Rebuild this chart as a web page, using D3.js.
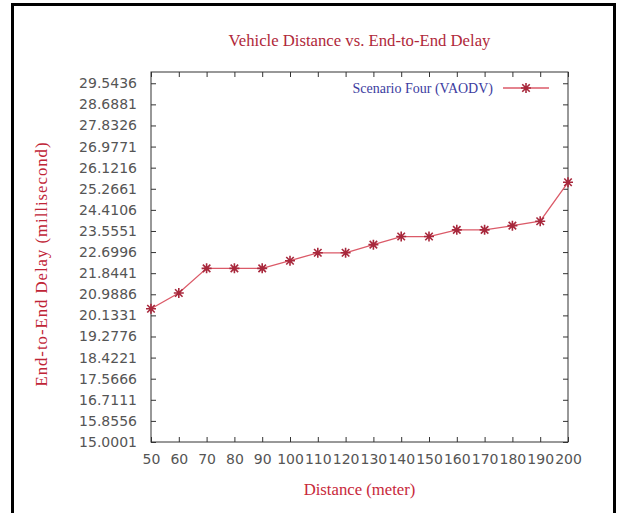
<!DOCTYPE html>
<html>
<head>
<meta charset="utf-8">
<script src="https://cdn.jsdelivr.net/npm/d3@7"></script>
<style>
  body { margin: 0; background: #fff; }
  svg { display: block; }
  .tick text { font-family: "DejaVu Sans", sans-serif; font-size: 14px; fill: #555; }
  .serif { font-family: "Liberation Serif", "Times New Roman", serif; }
</style>
</head>
<body>
<div id="chart"></div>
<script>
// chart data
const distances = [50, 60, 70, 80, 90, 100, 110, 120, 130, 140, 150, 160, 170, 180, 190, 200];
const delays = [20.40, 21.04, 22.04, 22.04, 22.04, 22.35, 22.67, 22.67, 23.00, 23.33, 23.33, 23.60, 23.60, 23.77, 23.95, 25.53];
const yTicks = [15.0001, 15.8556, 16.7111, 17.5666, 18.4221, 19.2776, 20.1331, 20.9886, 21.8441,
  22.6996, 23.5551, 24.4106, 25.2661, 26.1216, 26.9771, 27.8326, 28.6881, 29.5436];
const seriesName = "Scenario Four (VAODV)";

const width = 619, height = 513;
const margin = { top: 72, right: 51, bottom: 71, left: 151 };
const innerW = width - margin.left - margin.right;
const innerH = height - margin.top - margin.bottom;

const svg = d3.select("#chart")
  .append("svg")
  .attr("width", width)
  .attr("height", height);

svg.append("rect")
  .attr("width", width).attr("height", height)
  .attr("fill", "#fff");

// outer frame (open at the bottom)
svg.append("path")
  .attr("d", `M12.5,${height} V4.5 H614.5 V${height}`)
  .attr("fill", "none")
  .attr("stroke", "#000")
  .attr("stroke-width", 3);

const x = d3.scaleLinear().domain([50, 200]).range([0, innerW]);
const y = d3.scaleLinear().domain([15.0001, 30]).range([innerH, 0]);

const g = svg.append("g").attr("transform", `translate(${margin.left},${margin.top})`);

// axes with inward ticks, mirrored on top/right
const axisColor = "#333";
g.append("g")
  .attr("transform", `translate(0,${innerH})`)
  .call(d3.axisBottom(x).tickValues(distances).tickSizeInner(-5).tickSizeOuter(0).tickPadding(12));
g.append("g")
  .call(d3.axisLeft(y).tickValues(yTicks).tickFormat(d3.format(".4f")).tickSizeInner(-5).tickSizeOuter(0).tickPadding(14));
g.append("g")
  .call(d3.axisTop(x).tickValues(distances).tickSizeInner(-5).tickSizeOuter(0).tickFormat(""));
g.append("g")
  .attr("transform", `translate(${innerW},0)`)
  .call(d3.axisRight(y).tickValues(yTicks).tickSizeInner(-5).tickSizeOuter(0).tickFormat(""));

g.selectAll(".domain").remove();
g.selectAll(".tick line").attr("stroke", axisColor);

g.append("rect")
  .attr("width", innerW).attr("height", innerH)
  .attr("fill", "none").attr("stroke", axisColor).attr("stroke-width", 1);

// series
const lineColor = "#db5a68";
const line = d3.line()
  .x((d, i) => x(distances[i]))
  .y(d => y(d));

g.append("path")
  .datum(delays)
  .attr("d", line)
  .attr("fill", "none")
  .attr("stroke", lineColor)
  .attr("stroke-width", 1.3);

function star(sel, color) {
  const s = 5;
  sel.append("path")
    .attr("d", `M${-s},0H${s}M0,${-s}V${s}M${-s*0.75},${-s*0.75}L${s*0.75},${s*0.75}M${-s*0.75},${s*0.75}L${s*0.75},${-s*0.75}`)
    .attr("stroke", color)
    .attr("stroke-width", 1.6)
    .attr("fill", "none");
}

g.selectAll(".pt")
  .data(delays)
  .enter()
  .append("g")
  .attr("class", "pt")
  .attr("transform", (d, i) => `translate(${x(distances[i])},${y(d)})`)
  .each(function () { star(d3.select(this), "#a8283c"); });

// legend
const legend = g.append("g").attr("transform", `translate(${innerW - 65},16)`);
legend.append("text")
  .attr("class", "serif")
  .attr("x", -10).attr("y", 0)
  .attr("dy", "0.35em")
  .attr("text-anchor", "end")
  .attr("font-size", 14)
  .attr("fill", "#3c3ca0")
  .text(seriesName);
legend.append("line")
  .attr("x1", 0).attr("x2", 46)
  .attr("stroke", lineColor).attr("stroke-width", 1.3);
legend.append("g").attr("transform", "translate(23,0)").call(star, "#a8283c");

// titles
svg.append("text")
  .attr("class", "serif")
  .attr("x", margin.left + innerW / 2)
  .attr("y", 46)
  .attr("text-anchor", "middle")
  .attr("font-size", 16.7)
  .attr("fill", "#b0283a")
  .text("Vehicle Distance vs. End-to-End Delay");

svg.append("text")
  .attr("class", "serif")
  .attr("x", margin.left + innerW / 2)
  .attr("y", 495)
  .attr("text-anchor", "middle")
  .attr("font-size", 16.7)
  .attr("fill", "#c8283a")
  .text("Distance (meter)");

svg.append("text")
  .attr("class", "serif")
  .attr("transform", `translate(47,264) rotate(-90)`)
  .attr("text-anchor", "middle")
  .attr("font-size", 16.7)
  .attr("letter-spacing", 1)
  .attr("fill", "#bf2436")
  .text("End-to-End Delay (millisecond)");
</script>
</body>
</html>
